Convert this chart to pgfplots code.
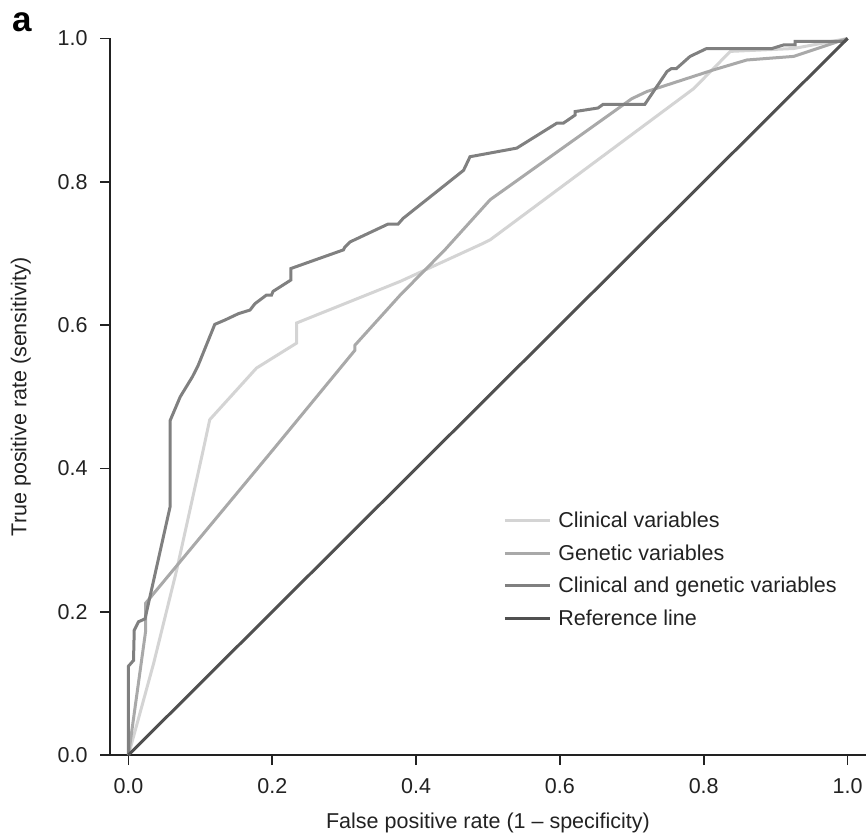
\documentclass[border=0pt]{standalone}
\usepackage{pgfplots}
\pgfplotsset{compat=1.18}
\usepackage{fontspec}
\setmainfont{Liberation Sans}
\definecolor{cclin}{HTML}{D4D4D4}
\definecolor{cgen}{HTML}{A9A9A9}
\definecolor{cboth}{HTML}{808080}
\definecolor{cref}{HTML}{505050}
\definecolor{caxis}{HTML}{222222}
\begin{document}
\begin{tikzpicture}
\useasboundingbox (0,0) rectangle (866pt,835pt);
\node[anchor=north west, inner sep=0pt, font=\fontsize{35}{38}\selectfont\bfseries] at (12pt,823pt) {a};
\begin{axis}[
  at={(110pt,80pt)}, anchor=south west,
  scale only axis, width=756pt, height=716.5pt,
  xmin=-0.0257, xmax=1.0257, ymin=0, ymax=1,
  axis x line*=bottom, axis y line*=left,
  axis line style={-, line width=1.6pt, caxis},
  tick style={line width=1.6pt, caxis},
  major tick length=10pt, tick align=outside,
  xtick={0,0.2,0.4,0.6,0.8,1}, ytick={0,0.2,0.4,0.6,0.8,1},
  xticklabels={0.0,0.2,0.4,0.6,0.8,1.0},
  yticklabels={0.0,0.2,0.4,0.6,0.8,1.0},
  ticklabel style={font=\fontsize{21.5}{25}\selectfont, text=caxis},
  xticklabel style={yshift=-10pt},
  yticklabel style={xshift=-9pt},
  xlabel={False positive rate (1 -- specificity)},
  ylabel={True positive rate (sensitivity)},
  label style={font=\fontsize{21.5}{25}\selectfont, text=caxis},
  xlabel style={yshift=-12pt},
  ylabel style={yshift=20pt},
  clip=false,
  legend style={at={(0.516,0.345)}, anchor=north west, draw=none, fill=none,
    font=\fontsize{21.5}{25}\selectfont, row sep=11.5pt, text=caxis,
    /tikz/every odd column/.append style={column sep=5pt}},
  legend cell align=left,
  legend image code/.code={\draw[#1] (0pt,0pt) -- (45pt,0pt);},
]
\addplot[cclin, line width=3pt] coordinates {
(0,0) (0.035,0.128) (0.067,0.258) (0.104,0.426) (0.113,0.468) (0.178,0.540)
(0.234,0.575) (0.234,0.603) (0.378,0.661) (0.493,0.714) (0.503,0.719)
(0.786,0.930) (0.837,0.982) (0.925,0.986) (1,1)};
\addlegendentry{Clinical variables}
\addplot[cgen, line width=3pt] coordinates {
(0,0) (0.024,0.174) (0.024,0.212) (0.201,0.426) (0.315,0.565) (0.315,0.572)
(0.378,0.642) (0.440,0.705) (0.503,0.775) (0.700,0.916) (0.721,0.926)
(0.813,0.956) (0.860,0.970) (0.925,0.975) (1,1)};
\addlegendentry{Genetic variables}
\addplot[cboth, line width=3pt] coordinates {
(0,0) (0,0.124) (0.007,0.132) (0.008,0.174) (0.014,0.186) (0.023,0.19)
(0.058,0.347) (0.058,0.467) (0.072,0.500) (0.089,0.528) (0.097,0.544)
(0.120,0.601) (0.134,0.607) (0.153,0.616) (0.169,0.621) (0.176,0.630)
(0.192,0.642) (0.199,0.642) (0.201,0.647) (0.226,0.663) (0.226,0.679)
(0.299,0.705) (0.301,0.709) (0.308,0.716) (0.361,0.741) (0.375,0.741)
(0.382,0.749) (0.466,0.816) (0.475,0.835) (0.540,0.847) (0.596,0.882)
(0.605,0.882) (0.621,0.893) (0.621,0.898) (0.653,0.903) (0.660,0.908)
(0.718,0.908) (0.749,0.954) (0.755,0.958) (0.762,0.958) (0.781,0.975)
(0.804,0.986) (0.895,0.986) (0.911,0.991) (0.927,0.991) (0.927,0.996)
(0.996,0.996) (1,1)};
\addlegendentry{Clinical and genetic variables}
\addplot[cref, line width=3pt] coordinates {(0,0) (1,1)};
\addlegendentry{Reference line}
\end{axis}
\end{tikzpicture}
\end{document}
